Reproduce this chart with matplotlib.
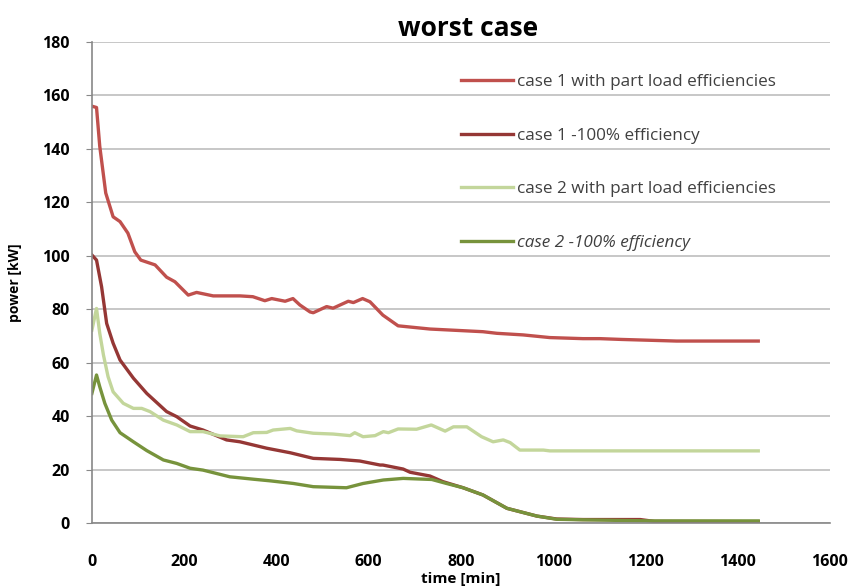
import matplotlib.pyplot as plt
from matplotlib.ticker import MultipleLocator

# case 1 with part load efficiencies
t_c1_part = [0, 10, 17, 30, 46, 61, 78, 93, 106, 137, 162, 180, 209, 227, 263, 321, 349, 375, 390,
             419, 436, 451, 473, 480, 509, 523, 556, 567, 587, 603, 631, 664, 733, 848, 878, 935,
             993, 1065, 1102, 1149, 1268, 1445]
p_c1_part = [156, 155.5, 141, 123.5, 114.6, 112.8, 108.5, 101.5, 98.4, 96.6, 92, 90.3, 85.3, 86.3,
             85, 85, 84.7, 83.2, 84, 83, 84, 81.6, 79, 78.7, 81, 80.4, 83, 82.5, 84, 82.8, 77.8,
             73.8, 72.6, 71.6, 71, 70.4, 69.4, 69, 69, 68.7, 68.1, 68.1]

# case 1 -100% efficiency
t_c1_full = [0, 10, 21, 32, 46, 61, 90, 119, 162, 184, 213, 241, 292, 321, 379, 430, 480, 538, 581,
             625, 631, 675, 690, 733, 761, 805, 848, 900, 965, 1008, 1065, 1189, 1220, 1445]
p_c1_full = [100.3, 98.4, 88.4, 74.7, 67.3, 61, 54.2, 48.5, 41.7, 39.8, 36.3, 34.8, 31.1, 30.4, 28,
             26.3, 24.2, 23.8, 23.2, 21.7, 21.7, 20.2, 19, 17.6, 15.5, 13.2, 10.5, 5.5, 2.6, 1.5,
             1.3, 1.3, 0.6, 0.5]

# case 2 with part load efficiencies
t_c2_part = [0, 10, 17, 25, 35, 46, 68, 90, 108, 126, 155, 184, 213, 241, 278, 328, 350, 379, 393,
             430, 444, 480, 523, 560, 570, 588, 614, 632, 643, 664, 704, 736, 766, 784, 813, 845,
             870, 892, 907, 928, 979, 993, 1445]
p_c2_part = [72.2, 80.3, 71, 62.9, 54.8, 49.1, 44.8, 42.9, 42.9, 41.7, 38.5, 36.7, 34.2, 34.2, 32.6,
             32.3, 33.8, 33.9, 34.8, 35.4, 34.5, 33.6, 33.3, 32.7, 33.8, 32.3, 32.7, 34.2, 33.8,
             35.2, 35.1, 36.7, 34.4, 36, 36, 32.3, 30.4, 31.1, 30.1, 27.3, 27.3, 27, 27]

# case 2 -100% efficiency
t_c2_full = [0, 10, 17, 28, 43, 61, 90, 119, 155, 184, 213, 241, 299, 350, 386, 437, 480, 552, 588,
             632, 675, 737, 769, 805, 848, 900, 965, 1008, 1065, 1211, 1445]
p_c2_full = [48.5, 55.4, 51, 44.8, 38.5, 33.8, 30.4, 27.1, 23.6, 22.3, 20.5, 19.8, 17.3, 16.4, 15.8,
             14.8, 13.6, 13.2, 14.8, 16.1, 16.7, 16.3, 14.8, 13.2, 10.5, 5.5, 2.6, 1.4, 1.2, 0.8, 0.8]

labels = ['case 1 with part load efficiencies', 'case 1 -100% efficiency',
          'case 2 with part load efficiencies', 'case 2 -100% efficiency']
colors = ['#C0504D', '#953735', '#C3D69B', '#77933C']

plt.rcParams['font.family'] = ['Open Sans', 'DejaVu Sans']

fig = plt.figure(figsize=(8.51, 5.88), dpi=100)
ax = fig.add_axes([0.108, 0.1105, 0.867, 0.818])

ax.plot(t_c1_part, p_c1_part, color=colors[0], lw=2.4, label=labels[0])
ax.plot(t_c1_full, p_c1_full, color=colors[1], lw=2.4, label=labels[1])
ax.plot(t_c2_part, p_c2_part, color=colors[2], lw=2.4, label=labels[2])
ax.plot(t_c2_full, p_c2_full, color=colors[3], lw=2.4, label=labels[3])

ax.set_xlim(0, 1600)
ax.set_ylim(0, 180)
ax.xaxis.set_major_locator(MultipleLocator(200))
ax.yaxis.set_major_locator(MultipleLocator(20))
ax.grid(axis='y', color='#BEBEBE', lw=1.2)
ax.set_axisbelow(True)
for s in ['top', 'right']:
    ax.spines[s].set_visible(False)
for s in ['left', 'bottom']:
    ax.spines[s].set_color('#888888')
    ax.spines[s].set_linewidth(1.2)
ax.tick_params(axis='x', length=0, pad=22, labelsize=11.5)
ax.tick_params(axis='y', length=4, color='#888888', labelsize=11.5, pad=12)
for lab in ax.get_xticklabels() + ax.get_yticklabels():
    lab.set_fontweight('bold')

ax.set_xlabel('time [min]', fontsize=11, fontweight='bold', labelpad=2)
ax.set_ylabel('power [kW]', fontsize=10, fontweight='bold', labelpad=14)
ax.set_title('worst case', fontsize=19, fontweight='bold', pad=2, x=0.51)

leg = ax.legend(loc='upper left', bbox_to_anchor=(0.48, 0.965), frameon=False, fontsize=12.3,
                handlelength=3.0, handletextpad=0.25, labelspacing=2.2)
for t in leg.get_texts():
    t.set_color('#404040')
leg.get_texts()[3].set_fontstyle('italic')

fig.savefig('out.png', dpi=100)
